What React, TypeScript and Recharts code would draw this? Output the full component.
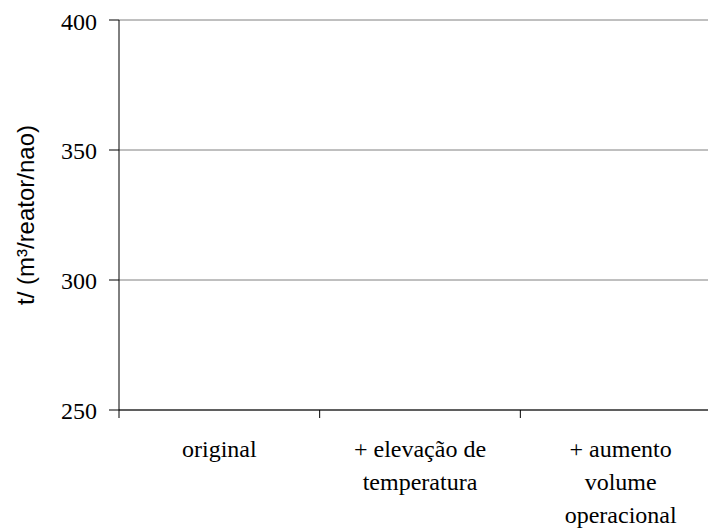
import { Bar, BarChart, CartesianGrid, XAxis, YAxis } from 'recharts';

const categories = ['original', '+ elevação de temperatura', '+ aumento volume operacional'];
const tickLabels = [['original'], ['+ elevação de', 'temperatura'], ['+ aumento', 'volume', 'operacional']];
// no bar is visible in the picture: every value sits below the axis floor of 250
const values: (number | null)[] = [null, null, null];
const yTicks = [250, 300, 350, 400];

const data = categories.map((name, i) => ({ name, v: values[i] }));

const serif = "'Liberation Serif', 'Times New Roman', Tinos, 'DejaVu Serif', 'Noto Serif', serif";
const sans = "'Liberation Sans', Arial, sans-serif";

const CategoryTick = (props: any) => {
  const { x, y, payload, index } = props;
  const half = payload.offset || 100;
  const lines = tickLabels[index] || [payload.value];
  return (
    <g>
      <line x1={x - half} y1={y} x2={x - half} y2={y + 8} stroke='#000' />
      <text x={x} y={y + 47} textAnchor='middle' fill='#000' style={{ fontFamily: serif, fontSize: 24 }}>
        {lines.map((l: string, i: number) => (
          <tspan key={i} x={x} dy={i === 0 ? 0 : 33}>
            {l}
          </tspan>
        ))}
      </text>
    </g>
  );
};

export default function App() {
  return (
    <div style={{ width: 708, height: 523, overflow: 'hidden' }}>
      <BarChart width={713} height={523} data={data} margin={{ top: 12, right: 0, left: 0, bottom: 0 }}>
        <CartesianGrid vertical={false} stroke='#808080' />
        <XAxis
          dataKey='name'
          height={121}
          axisLine={{ stroke: '#000' }}
          tickLine={false}
          tickSize={0}
          tickMargin={0}
          interval={0}
          tick={<CategoryTick />}
        />
        <YAxis
          width={111}
          domain={[250, 400]}
          ticks={yTicks}
          allowDataOverflow
          axisLine={{ stroke: '#000' }}
          tickLine={{ stroke: '#000' }}
          tickSize={10}
          tickMargin={12}
          tick={{ fill: '#000', style: { fontFamily: serif, fontSize: 24 } }}
          label={{
            value: 't/ (m³/reator/nao)',
            angle: -90,
            position: 'insideLeft',
            offset: 17,
            style: { textAnchor: 'middle', fill: '#000', fontFamily: sans, fontSize: 24 },
          }}
        />
        <Bar dataKey='v' fill='#000080' isAnimationActive={false} />
      </BarChart>
    </div>
  );
}
